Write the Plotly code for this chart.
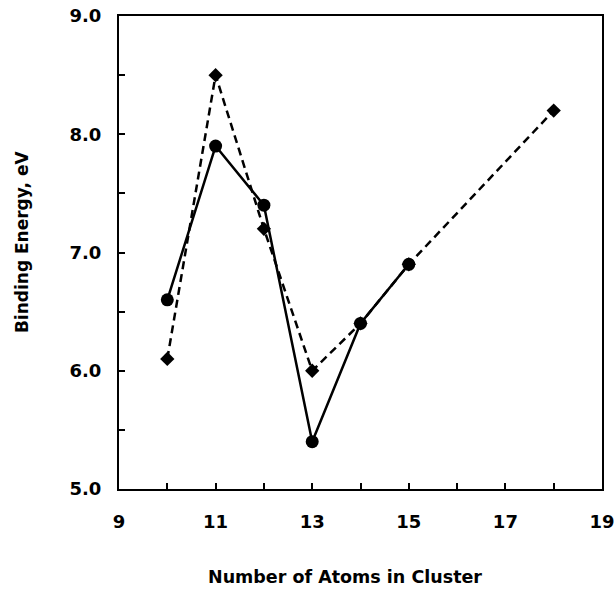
import plotly.graph_objects as go

atoms_a = [10, 11, 12, 13, 14, 15]
energy_a = [6.6, 7.9, 7.4, 5.4, 6.4, 6.9]
atoms_b = [10, 11, 12, 13, 14, 15, 18]
energy_b = [6.1, 8.5, 7.2, 6.0, 6.4, 6.9, 8.2]
x_title = "Number of Atoms in Cluster"
y_title = "Binding Energy, eV"

fig = go.Figure()
fig.add_trace(go.Scatter(x=atoms_b, y=energy_b, mode="lines+markers",
                         line=dict(color="black", width=2.5, dash="8px,5px"),
                         marker=dict(symbol="diamond", size=11, color="black")))
fig.add_trace(go.Scatter(x=atoms_a, y=energy_a, mode="lines+markers",
                         line=dict(color="black", width=2.5),
                         marker=dict(symbol="circle", size=13, color="black")))

font = "DejaVu Sans, sans-serif"
fig.update_layout(
    width=615, height=589, showlegend=False,
    paper_bgcolor="white", plot_bgcolor="white",
    margin=dict(l=119, r=13, t=16, b=100),
    font=dict(family=font, color="black"),
    annotations=[
        dict(text="<b>%s</b>" % x_title, xref="paper", yref="paper",
             x=0.468, y=-0.186, xanchor="center", yanchor="middle",
             showarrow=False, font=dict(size=17.5, family=font)),
        dict(text="<b>%s</b>" % y_title, xref="paper", yref="paper",
             x=-0.2008, y=0.522, xanchor="center", yanchor="middle",
             textangle=-90, showarrow=False, font=dict(size=17, family=font)),
    ],
)
fig.update_xaxes(range=[9, 19], tick0=9, dtick=2, ticks="inside", ticklen=6,
                 tickwidth=1.5, tickcolor="black", automargin=False,
                 ticklabelstandoff=15,
                 minor=dict(dtick=1, ticks="inside", ticklen=6, tickcolor="black"),
                 showline=True, linecolor="black", linewidth=2, mirror=True,
                 showgrid=False, zeroline=False,
                 tickfont=dict(size=18, family=font, weight="bold"))
fig.update_yaxes(range=[5, 9], dtick=1, tickformat=".1f", ticks="inside", ticklen=6,
                 tickwidth=1.5, tickcolor="black", automargin=False,
                 ticklabelstandoff=12,
                 minor=dict(dtick=0.5, ticks="inside", ticklen=6, tickcolor="black"),
                 showline=True, linecolor="black", linewidth=2, mirror=True,
                 showgrid=False, zeroline=False,
                 tickfont=dict(size=18, family=font, weight="bold"))

fig.write_html("out.html", config={"displayModeBar": False},
               post_script="document.body.style.margin='0';document.body.style.padding='0';")
